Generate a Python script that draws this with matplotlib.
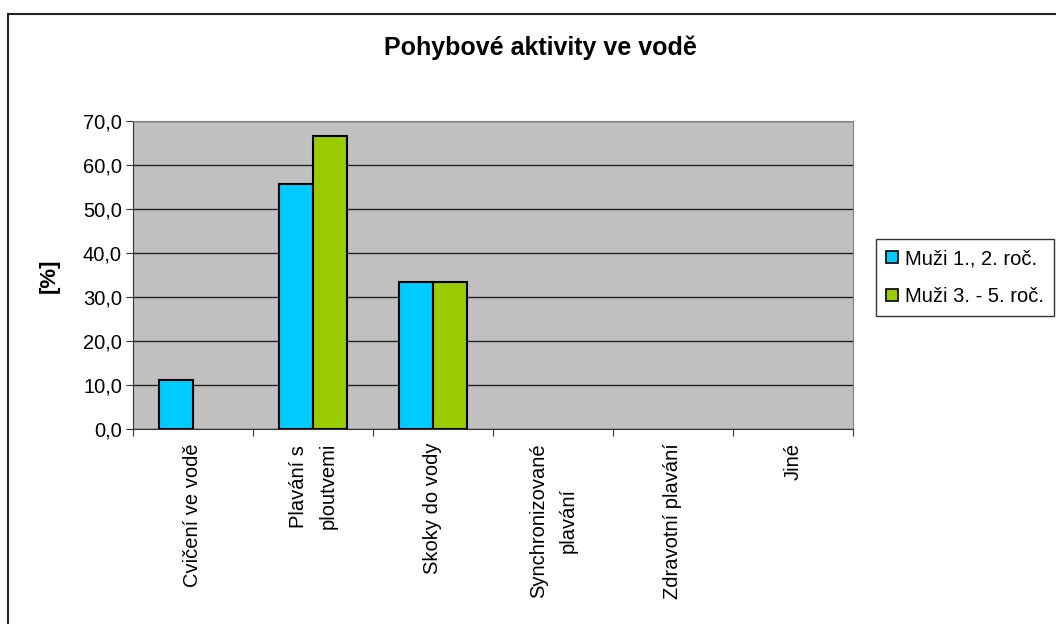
import matplotlib.pyplot as plt
import numpy as np
from matplotlib.patches import Patch, Rectangle

plt.rcParams['font.family'] = ['Liberation Sans', 'DejaVu Sans']

# Survey data: share of respondents [%] per activity
categories = ['Cvičení ve vodě', 'Plavání s\nploutvemi', 'Skoky do vody',
              'Synchronizované\nplavání', 'Zdravotní plavání', 'Jiné']
muzi_1_2 = [11.1, 55.6, 33.3, 0.0, 0.0, 0.0]
muzi_3_5 = [0.0, 66.7, 33.3, 0.0, 0.0, 0.0]
series_names = ['Muži 1., 2. roč.', 'Muži 3. - 5. roč.']
colors = ['#00CCFF', '#99CC00']

W, H = 1056, 624
fs = 14.5
fig = plt.figure(figsize=(W / 100, H / 100), dpi=100)
ax = fig.add_axes([133 / W, 1 - 429 / H, (853 - 133) / W, (429 - 121) / H])

x = np.arange(len(categories))
bw = 0.283
for i, (vals, c) in enumerate(zip([muzi_1_2, muzi_3_5], colors)):
    v = np.array(vals)
    mask = v > 0
    ax.bar(x[mask] + (i - 0.5) * bw, v[mask], width=bw, color=c,
           edgecolor='black', linewidth=1.5, zorder=3)

ax.set_facecolor('#C0C0C0')
ax.set_xlim(-0.5, len(categories) - 0.5)
ax.set_ylim(0, 70)
ax.set_yticks(np.arange(0, 71, 10))
ax.set_yticklabels([f'{v:.1f}'.replace('.', ',') for v in np.arange(0, 71, 10)],
                   fontsize=fs)
ax.yaxis.grid(True, color='#222222', linewidth=1, zorder=1)

# category boundaries as major ticks, names on minor ticks
ax.set_xticks(np.arange(-0.5, len(categories), 1))
ax.set_xticklabels([])
ax.set_xticks(x, minor=True)
ax.set_xticklabels(categories, minor=True, rotation=90, fontsize=fs,
                   multialignment='center', linespacing=1.7)
ax.tick_params(axis='x', which='minor', length=0, pad=10)
ax.tick_params(axis='x', which='major', length=5, color='#333333')
ax.tick_params(axis='y', length=5, color='#333333', pad=3)

for side in ['top', 'right']:
    ax.spines[side].set_color('#808080')
for side in ['left', 'bottom']:
    ax.spines[side].set_color('#333333')

fig.text(540 / W, 1 - 48 / H, 'Pohybové aktivity ve vodě', ha='center',
         va='center', fontsize=18, fontweight='bold')
fig.text(49 / W, 1 - 276 / H, '[%]', rotation=90, ha='center', va='center',
         fontsize=16, fontweight='bold')

handles = [Patch(facecolor=c, edgecolor='black', linewidth=1.2) for c in colors]
leg = fig.legend(handles, series_names, loc='upper left',
                 bbox_to_anchor=(876 / W, 1 - 239 / H), bbox_transform=fig.transFigure,
                 fontsize=fs, frameon=True, fancybox=False, borderaxespad=0,
                 handlelength=0.6, handleheight=0.6, handletextpad=0.35,
                 labelspacing=0.95, borderpad=0.5)
leg.get_frame().set_edgecolor('black')
leg.get_frame().set_linewidth(1)

# outer chart frame
fig.patches.append(Rectangle((8 / W, -0.1), 1.2, 1 - 14 / H + 0.1,
                             transform=fig.transFigure, fill=False,
                             edgecolor='#222222', linewidth=1.5))

fig.savefig('out.png', dpi=100)
